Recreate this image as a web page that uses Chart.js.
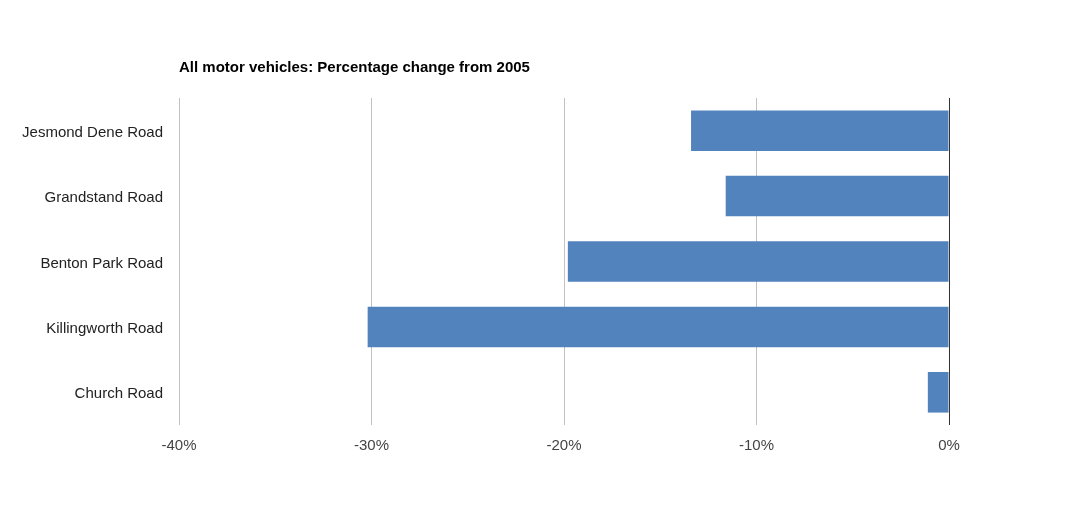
<!DOCTYPE html>
<html>
<head>
<meta charset="utf-8">
<script src="https://cdn.jsdelivr.net/npm/chart.js@4"></script>
<style>
  html, body { margin: 0; padding: 0; background: #fff; }
  #wrap { width: 1088px; height: 525px; }
</style>
</head>
<body>
<div id="wrap"><canvas id="chart" width="1088" height="525"></canvas></div>
<script>
const roads = ['Jesmond Dene Road', 'Grandstand Road', 'Benton Park Road', 'Killingworth Road', 'Church Road'];
const pctChange = [-13.4, -11.6, -19.8, -30.2, -1.1];
const chartTitle = 'All motor vehicles: Percentage change from 2005';

// title drawn at the left edge of the plot, like the original
const titlePlugin = {
  id: 'leftTitle',
  afterDraw(chart) {
    const c = chart.ctx;
    c.save();
    c.font = 'bold 15px "Liberation Sans", Arial, sans-serif';
    c.fillStyle = '#000';
    c.textBaseline = 'middle';
    c.textAlign = 'left';
    c.fillText(chartTitle, chart.chartArea.left, 68);
    c.restore();
  }
};

const ctx = document.getElementById('chart').getContext('2d');
new Chart(ctx, {
  type: 'bar',
  data: {
    labels: roads,
    datasets: [{
      data: pctChange,
      backgroundColor: '#5283bc',
      borderWidth: 0,
      categoryPercentage: 1,
      barPercentage: 0.62
    }]
  },
  options: {
    indexAxis: 'y',
    responsive: false,
    animation: false,
    layout: { padding: { top: 98, right: 139, bottom: 0, left: 0 } },
    plugins: {
      legend: { display: false },
      tooltip: { enabled: false },
      title: { display: false }
    },
    scales: {
      x: {
        min: -40,
        max: 0,
        ticks: {
          stepSize: 10,
          padding: 12,
          color: '#444',
          font: { family: '"Liberation Sans", Arial, sans-serif', size: 15 },
          callback: v => v + '%'
        },
        grid: {
          drawTicks: false,
          color: c => c.tick && c.tick.value === 0 ? '#333' : '#c2c2c2'
        },
        border: { display: false },
        afterFit(axis) { axis.height = 100; }
      },
      y: {
        ticks: {
          padding: 16,
          labelOffset: 2,
          color: '#222',
          font: { family: '"Liberation Sans", Arial, sans-serif', size: 15 }
        },
        grid: { display: false, drawTicks: false },
        border: { display: false },
        afterFit(axis) { axis.width = 179; }
      }
    }
  },
  plugins: [titlePlugin]
});
</script>
</body>
</html>
